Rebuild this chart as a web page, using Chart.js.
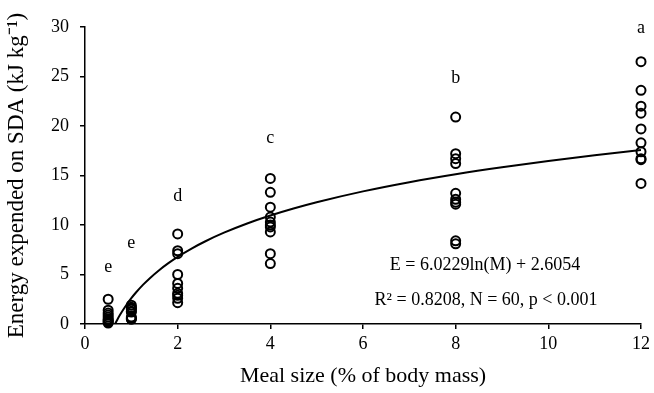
<!DOCTYPE html>
<html>
<head>
<meta charset="utf-8">
<script src="https://cdn.jsdelivr.net/npm/chart.js@4/dist/chart.umd.min.js"></script>
<style>
    html, body { margin: 0; padding: 0; background: #fff; }
</style>
</head>
<body>
<canvas id="chart" width="654" height="393"></canvas>
<script>
// meal sizes (% of body mass) and measured SDA energy per group
const mealSizes = [0.5, 1, 2, 4, 8, 12];
const energy05 = [2.5, 1.4, 1.1, 0.9, 0.7, 0.5, 0.4, 0.3, 0.2, 0.1];
const energy1 = [1.9, 1.7, 1.6, 1.5, 1.3, 1.2, 0.7, 0.6, 0.5, 0.5];
const energy2 = [9.1, 7.4, 7.1, 5.0, 4.1, 3.6, 3.1, 2.9, 2.6, 2.15];
const energy4 = [14.7, 13.3, 11.8, 10.8, 10.3, 10.0, 9.8, 9.3, 7.1, 6.1];
const energy8 = [20.9, 17.2, 16.7, 16.2, 13.2, 12.6, 12.3, 12.1, 8.4, 8.1];
const energy12 = [26.5, 23.6, 22.0, 21.3, 19.7, 18.3, 17.4, 16.7, 16.6, 14.2];

// significance letters above each group
const letterX = [0.5, 1, 2, 4, 8, 12];
const letterY = [5.7, 8.2, 12.9, 18.8, 24.8, 29.9];
const letterText = ['e', 'e', 'd', 'c', 'b', 'a'];

// fitted curve E = a ln(M) + b, as given on the chart
const fitA = 6.0229;
const fitB = 2.6054;
const fitX = [0.649, 0.66, 0.7, 0.75, 0.8, 0.9, 1, 1.1, 1.25, 1.4, 1.6, 1.8, 2, 2.3, 2.6, 3, 3.5, 4, 4.5, 5, 6, 7, 8, 9, 10, 11, 12];

const eqLine1 = 'E = 6.0229ln(M) + 2.6054';
const eqLine2 = 'R\u00b2 = 0.8208, N = 60, p < 0.001';

const groups = [energy05, energy1, energy2, energy4, energy8, energy12];
const scatterPoints = [];
groups.forEach((vals, i) => {
    vals.forEach(v => scatterPoints.push({ x: mealSizes[i], y: v }));
});
const fitPoints = fitX.map(m => ({ x: m, y: Math.max(0, fitA * Math.log(m) + fitB) }));

const serif = "'Liberation Serif', 'Times New Roman', serif";

const textPlugin = {
    id: 'textPlugin',
    afterDatasetsDraw(chart) {
        const ctx = chart.ctx;
        const xs = chart.scales.x;
        const ys = chart.scales.y;
        ctx.save();
        ctx.fillStyle = '#000';
        ctx.font = '18px ' + serif;
        ctx.textAlign = 'center';
        ctx.textBaseline = 'middle';
        letterText.forEach((t, i) => {
            ctx.fillText(t, xs.getPixelForValue(letterX[i]), ys.getPixelForValue(letterY[i]));
        });
        ctx.fillText(eqLine1, 485, 265);
        ctx.fillText(eqLine2, 486, 300);
        ctx.restore();
    }
};

new Chart(document.getElementById('chart'), {
    type: 'scatter',
    data: {
        datasets: [{
            data: scatterPoints,
            pointStyle: 'circle',
            pointRadius: 4.5,
            pointBorderWidth: 2,
            borderColor: '#000',
            backgroundColor: 'rgba(0,0,0,0)',
            clip: false
        }, {
            type: 'line',
            data: fitPoints,
            borderColor: '#000',
            borderWidth: 2,
            pointRadius: 0,
            fill: false,
            cubicInterpolationMode: 'monotone'
        }]
    },
    options: {
        responsive: false,
        animation: false,
        layout: { padding: { top: 27, right: 12, left: 0, bottom: 0 } },
        plugins: {
            legend: { display: false },
            tooltip: { enabled: false }
        },
        scales: {
            x: {
                type: 'linear',
                min: 0,
                max: 12,
                afterFit: s => { s.height = 69; },
                ticks: { stepSize: 2, color: '#000', font: { family: serif, size: 18 }, padding: 4 },
                grid: { drawOnChartArea: false, tickLength: 5, color: '#000', lineWidth: 1.5 },
                border: { color: '#000', width: 1.5 },
                title: {
                    display: true,
                    text: 'Meal size (% of body mass)',
                    color: '#000',
                    font: { family: serif, size: 22 },
                    padding: { top: 0, bottom: 4 }
                }
            },
            y: {
                min: 0,
                max: 30,
                afterFit: s => { s.width = 85; },
                ticks: { stepSize: 5, color: '#000', font: { family: serif, size: 18 }, padding: 11 },
                grid: { drawOnChartArea: false, tickLength: 5, color: '#000', lineWidth: 1.5 },
                border: { color: '#000', width: 1.5 },
                title: {
                    display: true,
                    text: 'Energy expended on SDA (kJ kg\u207b\u00b9)',
                    color: '#000',
                    font: { family: serif, size: 23 },
                    padding: { top: 3, bottom: 0 }
                }
            }
        }
    },
    plugins: [textPlugin]
});
</script>
</body>
</html>
